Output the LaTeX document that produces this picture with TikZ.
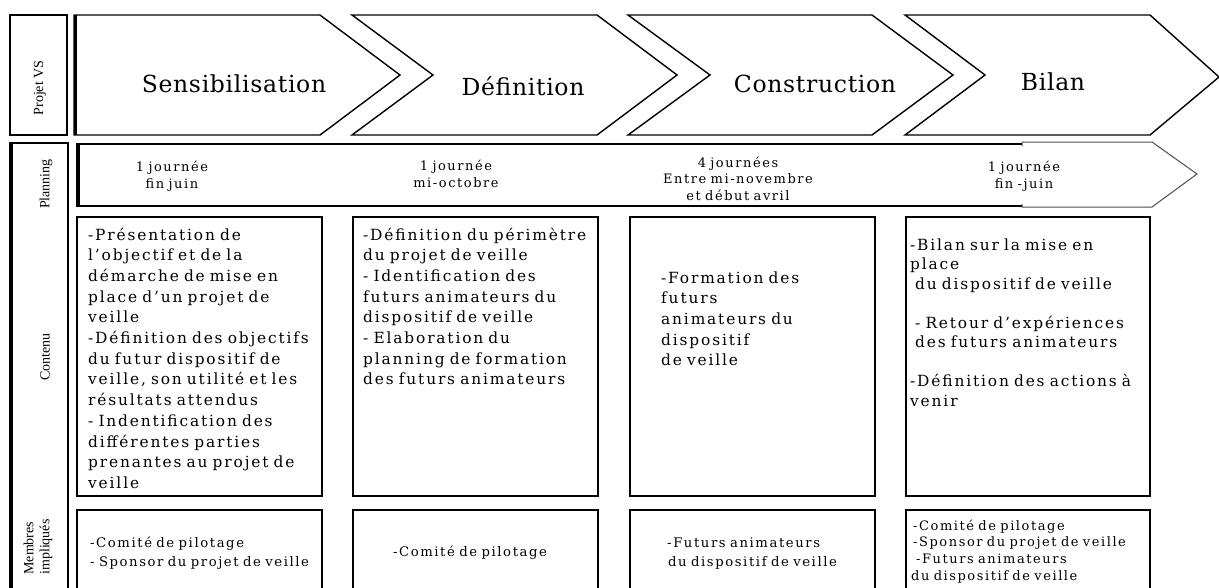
\documentclass[tikz,border=0pt]{standalone}
\usepackage{fontspec}
\newfontfamily\ctfont{DejaVu Serif}[LetterSpace=12,WordSpace=1.25]
\newfontfamily\ttlfont{DejaVu Serif}[LetterSpace=3]
\newfontfamily\lblfont{Liberation Serif}
\begin{document}
\begin{tikzpicture}[x=1pt,y=-1pt,
  chev/.style={draw=black,line width=1.4pt,line join=miter},
  box/.style={draw=black,line width=1.8pt},
  thinbox/.style={draw=black!70,line width=1pt},
  ttl/.style={font=\ttlfont\fontsize{23.5}{28}\selectfont,anchor=base,inner sep=0pt},
  ct/.style={font=\ctfont\fontsize{15.4}{20.7}\selectfont,anchor=base west,inner sep=0pt,text width=260pt,align=left},
  pl/.style={font=\ctfont\fontsize{13}{17.5}\selectfont,anchor=base,inner sep=0pt,text width=200pt,align=center},
  mb/.style={font=\ctfont\fontsize{13.2}{19}\selectfont,anchor=base west,inner sep=0pt,text width=240pt,align=left},
  lbl/.style={font=\lblfont\fontsize{14}{16}\selectfont,rotate=90,inner sep=0pt,align=left}]
\useasboundingbox (0,0) rectangle (1219,587);
\clip (0,0) rectangle (1219,587);
% left column
\draw[box,line width=1.5pt] (10,15) rectangle (67,135);
\draw[box] (10,143) rectangle (68,600);
\draw[line width=3pt] (11,143) -- (11,600);
\node[lbl] (lprojet) at (40,88) {Projet VS};
\node[lbl] (lplan) at (46,184) {Planning};
\node[lbl] (lcont) at (45,357) {Contenu};
\node[lbl] (lmemb) at (38,547) {Membres\\impliqués};
% chevrons
\draw[chev] (74,15) -- (320,15) -- (400,75) -- (320,135) -- (74,135) -- cycle;
\draw[line width=3pt] (75,15) -- (75,135);
\draw[chev] (352,15) -- (597,15) -- (677,75) -- (597,135) -- (352,135) -- (433,75) -- cycle;
\draw[chev] (628,15) -- (872,15) -- (953,75) -- (872,135) -- (628,135) -- (710,75) -- cycle;
\draw[chev] (905,15) -- (1150,15) -- (1219,77) -- (1150,135) -- (905,135) -- (985,75) -- cycle;
\node[ttl] (t1) at (234,92) {Sensibilisation};
\node[ttl] (t2) at (523,95) {Définition};
\node[ttl] (t3) at (815,92) {Construction};
\node[ttl] (t4) at (1053,90) {Bilan};
% planning bar
\draw[box] (1022,144) -- (77,144) -- (77,206) -- (1022,206);
\draw[line width=3pt] (78,144) -- (78,206);
\draw[thinbox] (1022,146) -- (1022,142) -- (1152,142) -- (1197,174) -- (1152,207) -- (1022,207) -- (1022,204);
\node[pl] (p1) at (172,171) {1 journée\\fin juin};
\node[pl] (p2) at (456,170) {1 journée\\mi-octobre};
\node[pl,font=\ctfont\fontsize{13}{16.8}\selectfont] (p3) at (738,167) {4 journées\\Entre mi-novembre\\et début avril};
\node[pl] (p4) at (1024,171) {1 journée\\fin -juin};
% content boxes
\draw[box] (77,217) rectangle (322,496);
\draw[box] (353,217) rectangle (598,496);
\draw[box] (630,217) rectangle (875,496);
\draw[box] (906,217) rectangle (1150,496);
\node[ct] (c1) at (88,240) {-Présentation de\\l’objectif et de la\\démarche de mise en\\place d’un projet de\\veille\\-Définition des objectifs\\du futur dispositif de\\veille, son utilité et les\\résultats attendus\\- Indentification des\\différentes parties\\prenantes au projet de\\veille};
\node[ct] (c2) at (363,240) {-Définition du périmètre\\du projet de veille\\- Identification des\\futurs animateurs du\\dispositif de veille\\- Elaboration du\\planning de formation\\des futurs animateurs};
\node[ct] (c3) at (661,283) {-Formation des\\futurs\\animateurs du\\dispositif\\de veille};
\node[ct,font=\ctfont\fontsize{15.4}{19.5}\selectfont] (c4) at (910,250) {-Bilan sur la mise en\\place\\\hspace*{5pt}du dispositif de veille\\[19.5pt]\hspace*{5pt}- Retour d’expériences\\\hspace*{5pt}des futurs animateurs\\[19.5pt]-Définition des actions à\\venir};
% membres boxes
\draw[box] (77,600) -- (77,510) -- (322,510) -- (322,600);
\draw[box] (353,600) -- (353,510) -- (598,510) -- (598,600);
\draw[box] (630,600) -- (630,510) -- (875,510) -- (875,600);
\draw[box] (906,600) -- (906,510) -- (1150,510) -- (1150,600);
\node[mb] (m1) at (90,547) {-Comité de pilotage\\- Sponsor du projet de veille};
\node[mb,anchor=base,align=center] (m2) at (470,556) {-Comité de pilotage};
\node[mb] (m3) at (667,547) {-Futurs animateurs\\\hspace*{1pt}du dispositif de veille};
\node[mb,font=\ctfont\fontsize{13}{16.8}\selectfont] (m4) at (911,530) {\hspace*{2pt}-Comité de pilotage\\\hspace*{2pt}-Sponsor du projet de veille\\\hspace*{5pt}-Futurs animateurs\\du dispositif de veille};
\end{tikzpicture}
\end{document}
